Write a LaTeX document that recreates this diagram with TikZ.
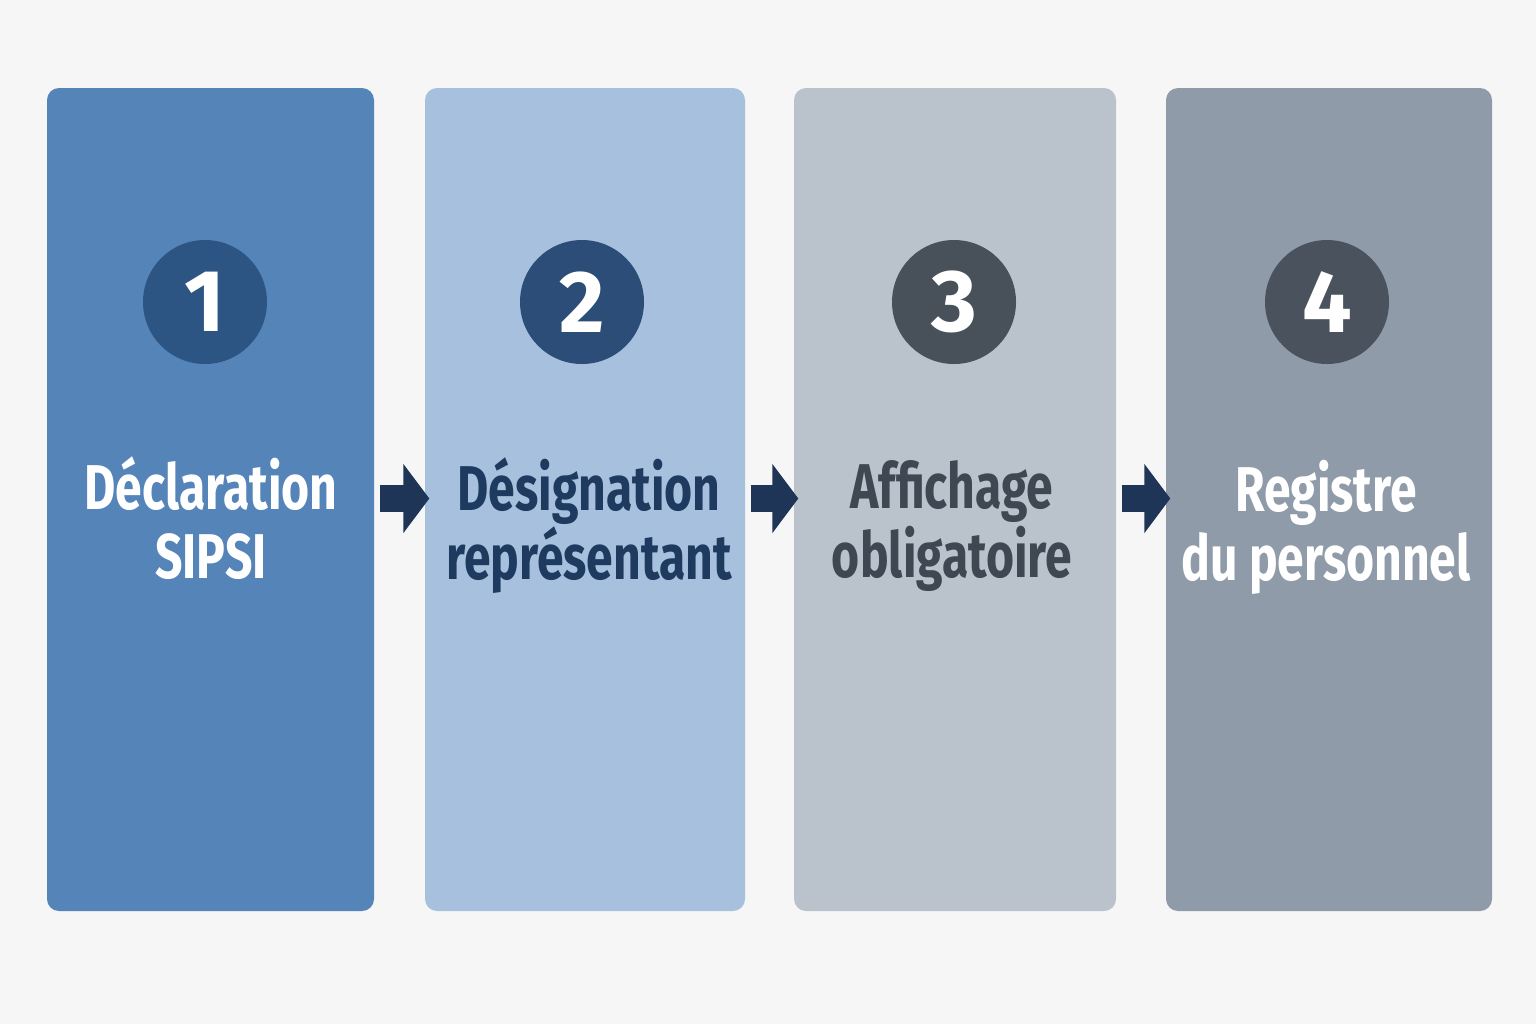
\documentclass[tikz,border=0pt]{standalone}
\usepackage{fontspec}
\setmainfont{Fira Sans}[FakeStretch=0.76]
\newfontfamily\numfont{Fira Sans}
\usepackage{xcolor}
\usetikzlibrary{positioning, arrows.meta}
\definecolor{bgcol}{HTML}{F6F6F6}
\definecolor{boxA}{HTML}{5584B9}
\definecolor{boxB}{HTML}{A7C0DE}
\definecolor{boxC}{HTML}{BAC2CC}
\definecolor{boxD}{HTML}{8F9BA8}
\definecolor{numA}{HTML}{2D5584}
\definecolor{numB}{HTML}{2B4D78}
\definecolor{numC}{HTML}{48505A}
\definecolor{numD}{HTML}{4A535D}
\definecolor{txtB}{HTML}{1F3A5F}
\definecolor{txtC}{HTML}{3F4752}
\definecolor{arrcol}{HTML}{1F3557}

\begin{document}
\begin{tikzpicture}[
    stage/.style={rectangle, rounded corners=0.12cm, minimum height=8.23cm, inner sep=0pt},
    num/.style={circle, minimum size=1.24cm, inner sep=0pt, text=white, font=\numfont\bfseries\fontsize{25}{25}\selectfont},
    lbl/.style={align=center, font=\bfseries\fontsize{18}{19.6}\selectfont},
    flow/.style={arrcol, line width=0.27cm, shorten <=0.05cm, shorten >=-0.05cm, -{Triangle[length=0.26cm, width=0.68cm]}}
    ]

        % background and margins
        \fill[bgcol] (0,0) rectangle (15.36,-10.24);
        \useasboundingbox (0,0) rectangle (15.36,-10.24);

        % stages
        \node[stage, fill=boxA, minimum width=3.27cm] (b1) at (2.105, -4.995) {};
        \node[stage, fill=boxB, minimum width=3.20cm] (b2) at (5.85, -4.995) {};
        \node[stage, fill=boxC, minimum width=3.22cm] (b3) at (9.55, -4.995) {};
        \node[stage, fill=boxD, minimum width=3.26cm] (b4) at (13.29, -4.995) {};

        % numbers
        \foreach \i/\x/\c in {1/2.05/numA, 2/5.82/numB, 3/9.54/numC, 4/13.27/numD}
            \node[num, fill=\c] (n\i) at (\x, -3.02) {\i};

        % labels
        \node[lbl, text=white] (t1) at (2.11, -5.18) {Déclaration\\SIPSI};
        \node[lbl, text=txtB] (t2) at (5.89, -5.26) {Désignation\\représentant};
        \node[lbl, text=txtC] (t3) at (9.52, -5.26) {Affichage\\obligatoire};
        \node[lbl, text=white] (t4) at (13.26, -5.27) {Registre\\du personnel};

        % arrows
        \foreach \step in {1,...,3} {
            \pgfmathtruncatemacro{\next}{add(\step,1)}
            \draw[flow] ([yshift=0.01cm]b\step.east) -- ([yshift=0.01cm]b\next.west);
        }
\end{tikzpicture}
\end{document}
